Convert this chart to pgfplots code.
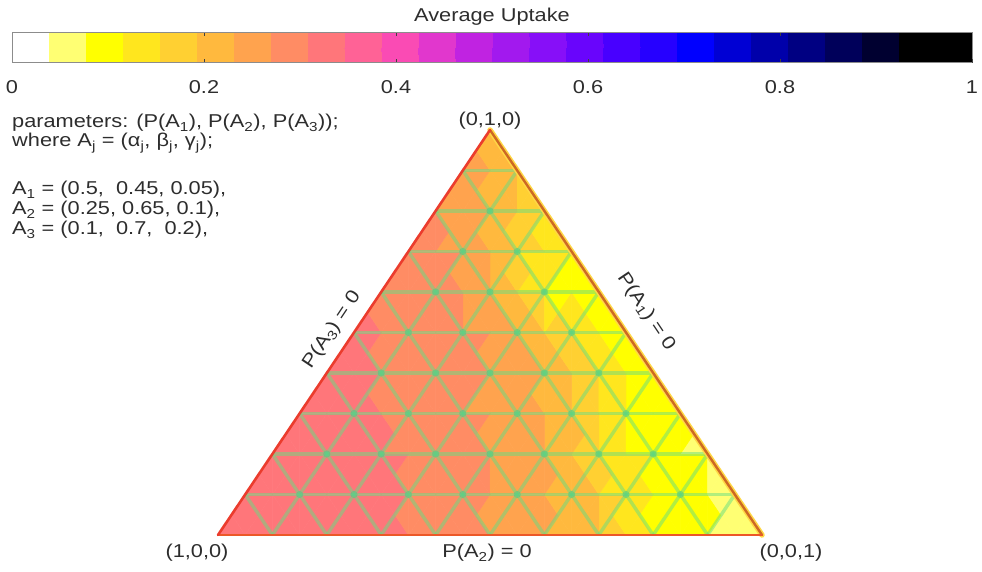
\documentclass[border=0pt]{standalone}
\usepackage{fontspec}
\setmainfont{Liberation Sans}[FakeStretch=1.17]
\usepackage{pgfplots}
\usepackage{pgfplotstable}
\pgfplotsset{compat=1.18}
\definecolor{txt}{RGB}{45,45,45}
\definecolor{gridg}{RGB}{100,222,130}
\definecolor{dotg}{RGB}{70,200,140}
\definecolor{edgeL}{RGB}{235,60,45}
\definecolor{edgeB}{RGB}{236,88,40}
\definecolor{edgeR}{RGB}{205,105,35}
\definecolor{glowR}{RGB}{255,215,70}
\newcommand{\fs}{\fontsize{18.6bp}{19.5bp}\selectfont}

% nodes of the simplex grid: x = P(A3)+P(A2)/2, y = P(A2), c = average uptake
\pgfplotstableread{
x y c
0.00 0.0 0.345
0.10 0.0 0.343
0.20 0.0 0.336
0.30 0.0 0.316
0.40 0.0 0.288
0.50 0.0 0.262
0.60 0.0 0.232
0.70 0.0 0.200
0.80 0.0 0.110
0.90 0.0 0.079
1.00 0.0 0.050
0.05 0.1 0.343
0.15 0.1 0.338
0.25 0.1 0.324
0.35 0.1 0.305
0.45 0.1 0.280
0.55 0.1 0.252
0.65 0.1 0.222
0.75 0.1 0.130
0.85 0.1 0.095
0.95 0.1 0.065
0.10 0.2 0.340
0.20 0.2 0.328
0.30 0.2 0.312
0.40 0.2 0.295
0.50 0.2 0.270
0.60 0.2 0.240
0.70 0.2 0.165
0.80 0.2 0.100
0.90 0.2 0.070
0.15 0.3 0.330
0.25 0.3 0.315
0.35 0.3 0.298
0.45 0.3 0.276
0.55 0.3 0.246
0.65 0.3 0.200
0.75 0.3 0.105
0.85 0.3 0.078
0.20 0.4 0.322
0.30 0.4 0.305
0.40 0.4 0.288
0.50 0.4 0.265
0.60 0.4 0.225
0.70 0.4 0.150
0.80 0.4 0.085
0.25 0.5 0.315
0.35 0.5 0.298
0.45 0.5 0.280
0.55 0.5 0.248
0.65 0.5 0.145
0.75 0.5 0.088
0.30 0.6 0.300
0.40 0.6 0.282
0.50 0.6 0.245
0.60 0.6 0.110
0.70 0.6 0.095
0.35 0.7 0.288
0.45 0.7 0.262
0.55 0.7 0.170
0.65 0.7 0.105
0.40 0.8 0.272
0.50 0.8 0.225
0.60 0.8 0.140
0.45 0.9 0.255
0.55 0.9 0.190
0.50 1.0 0.228
}\verts

\begin{document}
\begin{tikzpicture}[x=1bp,y=1bp]
\useasboundingbox (0,0) rectangle (982,572);
\begin{axis}[
  at={(218bp,37bp)}, anchor=south west,
  width=544bp, height=405bp, scale only axis,
  xmin=0, xmax=1, ymin=0, ymax=1,
  hide axis, clip=false,
  colormap={uptake}{
    rgb255=(255,255,255) rgb255=(255,255,115) rgb255=(255,255,0)
    rgb255=(255,230,30)  rgb255=(255,208,50)  rgb255=(255,185,62)
    rgb255=(255,163,78)  rgb255=(255,140,100) rgb255=(255,118,122)
    rgb255=(255,98,150)  rgb255=(250,75,180)  rgb255=(225,55,205)
    rgb255=(192,35,225)  rgb255=(162,25,238)  rgb255=(135,15,248)
    rgb255=(105,5,252)   rgb255=(72,0,255)    rgb255=(38,0,255)
    rgb255=(0,0,255)     rgb255=(0,0,212)     rgb255=(0,0,170)
    rgb255=(0,0,130)     rgb255=(0,0,90)      rgb255=(0,0,48)
    rgb255=(0,0,0)       rgb255=(0,0,0)
  },
  colormap access=piecewise constant,
  point meta min=0, point meta max=1,
  colorbar horizontal,
  colorbar style={
    at={(-0.37868,1.24074)}, anchor=north west,
    width=960bp, height=30.5bp, scale only axis,
    xtick={0,0.2,0.4,0.6,0.8,1},
    xticklabels={0,0.2,0.4,0.6,0.8,1},
    xticklabel style={font=\fs, text=txt, yshift=-14bp},
    xtick pos=both, xticklabel pos=lower,
    tick align=inside,
    axis line style={draw=black!45, line width=1bp},
    major tick length=4bp,
    tick style={draw=black!75, line width=1bp},
    title={Average Uptake},
    title style={font=\fs, text=txt, at={(0.5,1)}, anchor=base, yshift=5.5bp},
  },
]
\addplot[patch, patch type=triangle, shader=flat, patch refines=2, forget plot,
  point meta=explicit,
  table/row sep=\\, table/header=false,
  patch table={
0 1 11\\ 1 2 12\\ 2 3 13\\ 3 4 14\\ 4 5 15\\ 5 6 16\\ 6 7 17\\ 7 8 18\\ 8 9 19\\ 9 10 20\\
1 12 11\\ 2 13 12\\ 3 14 13\\ 4 15 14\\ 5 16 15\\ 6 17 16\\ 7 18 17\\ 8 19 18\\ 9 20 19\\
11 12 21\\ 12 13 22\\ 13 14 23\\ 14 15 24\\ 15 16 25\\ 16 17 26\\ 17 18 27\\ 18 19 28\\ 19 20 29\\
12 22 21\\ 13 23 22\\ 14 24 23\\ 15 25 24\\ 16 26 25\\ 17 27 26\\ 18 28 27\\ 19 29 28\\
21 22 30\\ 22 23 31\\ 23 24 32\\ 24 25 33\\ 25 26 34\\ 26 27 35\\ 27 28 36\\ 28 29 37\\
22 31 30\\ 23 32 31\\ 24 33 32\\ 25 34 33\\ 26 35 34\\ 27 36 35\\ 28 37 36\\
30 31 38\\ 31 32 39\\ 32 33 40\\ 33 34 41\\ 34 35 42\\ 35 36 43\\ 36 37 44\\
31 39 38\\ 32 40 39\\ 33 41 40\\ 34 42 41\\ 35 43 42\\ 36 44 43\\
38 39 45\\ 39 40 46\\ 40 41 47\\ 41 42 48\\ 42 43 49\\ 43 44 50\\
39 46 45\\ 40 47 46\\ 41 48 47\\ 42 49 48\\ 43 50 49\\
45 46 51\\ 46 47 52\\ 47 48 53\\ 48 49 54\\ 49 50 55\\
46 52 51\\ 47 53 52\\ 48 54 53\\ 49 55 54\\
51 52 56\\ 52 53 57\\ 53 54 58\\ 54 55 59\\
52 57 56\\ 53 58 57\\ 54 59 58\\
56 57 60\\ 57 58 61\\ 58 59 62\\
57 61 60\\ 58 62 61\\
60 61 63\\ 61 62 64\\
61 64 63\\
63 64 65\\
  }]
  table[x=x, y=y, meta=c] {\verts};

\pgfplotsset{every axis plot/.append style={forget plot}}
% grid lines
\tikzset{gl/.style={draw=gridg, line width=3.4bp, opacity=0.5, no markers}}
\addplot[gl] coordinates {(0.05,0.1) (0.95,0.1)};
\addplot[gl] coordinates {(0.10,0.2) (0.90,0.2)};
\addplot[gl] coordinates {(0.15,0.3) (0.85,0.3)};
\addplot[gl] coordinates {(0.20,0.4) (0.80,0.4)};
\addplot[gl] coordinates {(0.25,0.5) (0.75,0.5)};
\addplot[gl] coordinates {(0.30,0.6) (0.70,0.6)};
\addplot[gl] coordinates {(0.35,0.7) (0.65,0.7)};
\addplot[gl] coordinates {(0.40,0.8) (0.60,0.8)};
\addplot[gl] coordinates {(0.45,0.9) (0.55,0.9)};
\addplot[gl] coordinates {(0.1,0) (0.55,0.9)};
\addplot[gl] coordinates {(0.2,0) (0.60,0.8)};
\addplot[gl] coordinates {(0.3,0) (0.65,0.7)};
\addplot[gl] coordinates {(0.4,0) (0.70,0.6)};
\addplot[gl] coordinates {(0.5,0) (0.75,0.5)};
\addplot[gl] coordinates {(0.6,0) (0.80,0.4)};
\addplot[gl] coordinates {(0.7,0) (0.85,0.3)};
\addplot[gl] coordinates {(0.8,0) (0.90,0.2)};
\addplot[gl] coordinates {(0.9,0) (0.95,0.1)};
\addplot[gl] coordinates {(0.9,0) (0.45,0.9)};
\addplot[gl] coordinates {(0.8,0) (0.40,0.8)};
\addplot[gl] coordinates {(0.7,0) (0.35,0.7)};
\addplot[gl] coordinates {(0.6,0) (0.30,0.6)};
\addplot[gl] coordinates {(0.5,0) (0.25,0.5)};
\addplot[gl] coordinates {(0.4,0) (0.20,0.4)};
\addplot[gl] coordinates {(0.3,0) (0.15,0.3)};
\addplot[gl] coordinates {(0.2,0) (0.10,0.2)};
\addplot[gl] coordinates {(0.1,0) (0.05,0.1)};
% grid intersections
\addplot[only marks, mark=*, mark size=3.3bp, color=dotg, opacity=0.4]
  coordinates {
  (0.15,0.1) (0.25,0.1) (0.35,0.1) (0.45,0.1) (0.55,0.1) (0.65,0.1) (0.75,0.1) (0.85,0.1)
  (0.2,0.2) (0.3,0.2) (0.4,0.2) (0.5,0.2) (0.6,0.2) (0.7,0.2) (0.8,0.2)
  (0.25,0.3) (0.35,0.3) (0.45,0.3) (0.55,0.3) (0.65,0.3) (0.75,0.3)
  (0.3,0.4) (0.4,0.4) (0.5,0.4) (0.6,0.4) (0.7,0.4)
  (0.35,0.5) (0.45,0.5) (0.55,0.5) (0.65,0.5)
  (0.4,0.6) (0.5,0.6) (0.6,0.6)
  (0.45,0.7) (0.55,0.7)
  (0.5,0.8)
  };
% edges
\addplot[glowR, line width=5.5bp, line cap=round, no markers] coordinates {(1,0) (0.5,1)};
\addplot[edgeR, line width=2.4bp, line cap=round, no markers] coordinates {(1,0) (0.5,1)};
\addplot[edgeB, line width=2.4bp, line cap=round, no markers] coordinates {(0,0) (1,0)};
\addplot[edgeL, line width=2.6bp, line cap=round, no markers] coordinates {(0,0) (0.5,1)};
\end{axis}

\begin{scope}[every node/.style={font=\fs, text=txt, inner sep=0pt}]
\node[anchor=base west] at (12,444) {parameters: (P(A\textsubscript{1}), P(A\textsubscript{2}), P(A\textsubscript{3}));};
\node[anchor=base west] at (12,425) {where A\textsubscript{j} = (α\textsubscript{j}, β\textsubscript{j}, γ\textsubscript{j});};
\node[anchor=base west] at (12,377) {A\textsubscript{1} = (0.5,\ \ 0.45, 0.05),};
\node[anchor=base west] at (12,357) {A\textsubscript{2} = (0.25, 0.65, 0.1),};
\node[anchor=base west] at (12,337) {A\textsubscript{3} = (0.1,\ \ 0.7,\ \ 0.2),};
\node[anchor=base] at (490,446) {(0,1,0)};
\node[anchor=base] at (197,14) {(1,0,0)};
\node[anchor=base] at (791,14) {(0,0,1)};
\node[anchor=base] at (487,14) {P(A\textsubscript{2}) = 0};
\node[anchor=center, rotate=56.1] at (332,242) {P(A\textsubscript{3}) = 0};
\node[anchor=center, rotate=-56.1] at (646,260) {P(A\textsubscript{1}) = 0};
\end{scope}
\end{tikzpicture}
\end{document}
